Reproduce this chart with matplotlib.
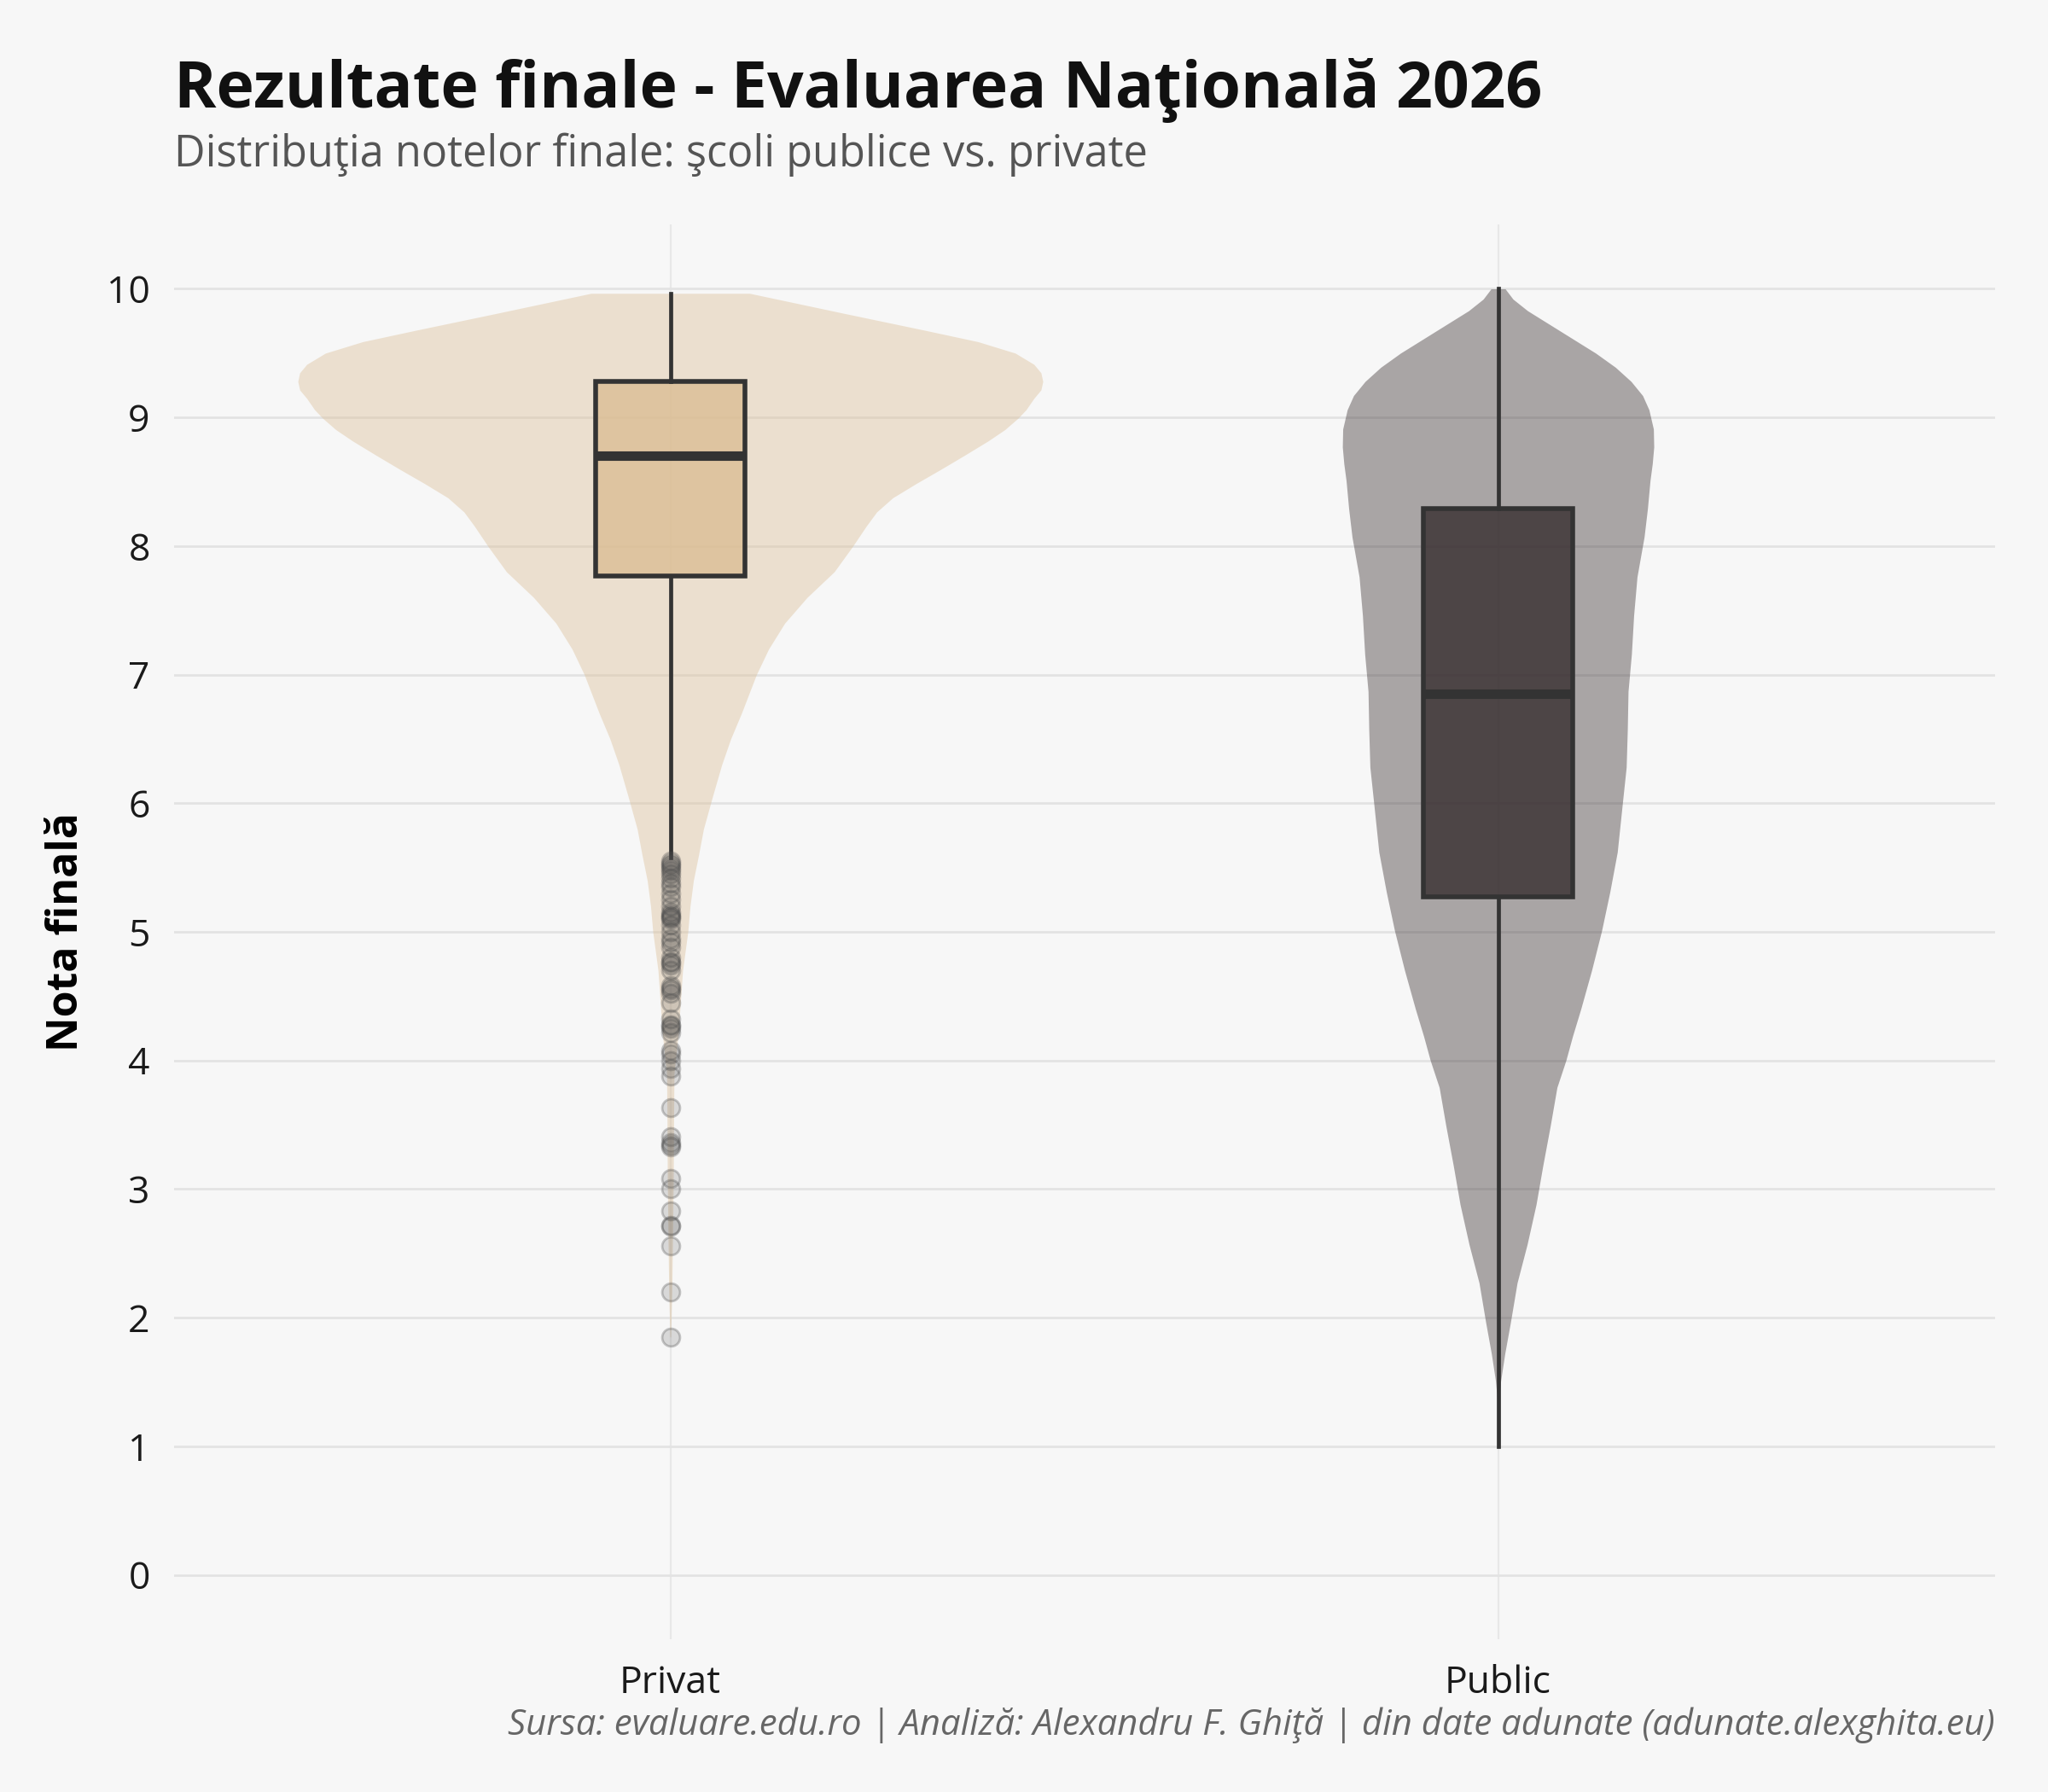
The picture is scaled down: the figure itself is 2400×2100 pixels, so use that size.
import matplotlib
matplotlib.use("Agg")
import matplotlib.pyplot as plt
import numpy as np

plt.rcParams['font.family'] = ['Open Sans', 'DejaVu Sans']

# === date ===
categorii = ["Privat", "Public"]

# profil densitate (relativ, 1 = latimea maxima a viorii Privat)
privat_note = [1.85, 2.2, 2.6, 3.1, 3.6, 3.9, 4.2, 4.45, 4.7, 5.0, 5.2, 5.4, 5.6,
               5.8, 6.05, 6.3, 6.5, 6.7, 7.0, 7.2, 7.4, 7.6, 7.8, 8.0, 8.155,
               8.265, 8.375, 8.486, 8.596, 8.706, 8.817, 8.905, 8.993, 9.06,
               9.148, 9.214, 9.28, 9.347, 9.413, 9.5, 9.589, 9.678, 9.81, 9.965]
privat_dens = [0.001, 0.004, 0.006, 0.008, 0.009, 0.010, 0.021, 0.027, 0.033, 0.047,
               0.053, 0.062, 0.076, 0.089, 0.113, 0.138, 0.162, 0.191, 0.231, 0.264,
               0.307, 0.367, 0.44, 0.49, 0.526, 0.554, 0.597, 0.66, 0.726, 0.79,
               0.853, 0.898, 0.933, 0.955, 0.976, 0.995, 1.0, 0.995, 0.976, 0.926,
               0.826, 0.683, 0.465, 0.213]

public_note = [1.0, 1.36, 1.51, 1.72, 1.96, 2.27, 2.57, 2.88, 3.18, 3.49, 3.79, 4.0,
               4.19, 4.4, 4.7, 5.01, 5.31, 5.62, 5.98, 6.28, 6.57, 6.87, 7.16, 7.46,
               7.76, 8.07, 8.29, 8.51, 8.64, 8.77, 8.91, 9.06, 9.17, 9.28, 9.39,
               9.5, 9.61, 9.72, 9.83, 9.92, 10.0]
public_dens = [0.0, 0.002, 0.007, 0.018, 0.033, 0.051, 0.078, 0.102, 0.12, 0.14,
               0.158, 0.182, 0.2, 0.222, 0.251, 0.278, 0.3, 0.32, 0.333, 0.344,
               0.347, 0.349, 0.358, 0.364, 0.373, 0.392, 0.401, 0.408, 0.414, 0.418,
               0.417, 0.405, 0.388, 0.357, 0.315, 0.262, 0.201, 0.14, 0.079, 0.04,
               0.019]

# statistici boxplot: q1, mediana, q3, mustati
q1 = [7.77, 5.27]
mediana = [8.70, 6.85]
q3 = [9.28, 8.29]
mustata_jos = [5.58, 1.0]
mustata_sus = [9.965, 10.0]

# valori aberante (doar Privat)
privat_outliers = [5.55, 5.53, 5.52, 5.50, 5.48, 5.45, 5.42, 5.38, 5.35, 5.30, 5.25,
                   5.20, 5.15, 5.13, 5.12, 5.11, 5.10, 5.05, 5.00, 4.95, 4.92, 4.88,
                   4.80, 4.77, 4.76, 4.74, 4.70, 4.58, 4.56, 4.55, 4.52, 4.45, 4.32,
                   4.28, 4.27, 4.25, 4.22, 4.08, 4.05, 4.00, 3.94, 3.88, 3.63, 3.41,
                   3.36, 3.34, 3.33, 3.08, 3.00, 2.83, 2.72, 2.71, 2.56, 2.20, 1.85]

culori = ["#dbbd93", "#342a2c"]
bg = "#f7f7f7"

fig = plt.figure(figsize=(12, 10.5), dpi=200, facecolor=bg)
ax = fig.add_axes([0.0848, 0.0853, 0.974 - 0.0848, 0.8747 - 0.0853], facecolor=bg)

# === viori ===
latime_max = 0.45
for i, (note, dens) in enumerate([(privat_note, privat_dens), (public_note, public_dens)]):
    hw = np.array(dens) * latime_max
    ax.fill_betweenx(note, i - hw, i + hw, color=culori[i], alpha=0.4, lw=0, zorder=2)

# === boxplot ===
stats = []
for i in range(2):
    stats.append(dict(med=mediana[i], q1=q1[i], q3=q3[i],
                      whislo=mustata_jos[i], whishi=mustata_sus[i],
                      fliers=privat_outliers if i == 0 else []))
bp = ax.bxp(stats, positions=[0, 1], widths=0.18, patch_artist=True,
            showcaps=False,
            boxprops=dict(edgecolor="#333333", linewidth=2.0),
            whiskerprops=dict(color="#333333", linewidth=1.7),
            medianprops=dict(color="#333333", linewidth=4.0),
            flierprops=dict(marker="o", markersize=7.5,
                            markerfacecolor=(0.3, 0.3, 0.3, 0.18),
                            markeredgecolor=(0.3, 0.3, 0.3, 0.3),
                            markeredgewidth=1.0, linestyle="none"),
            zorder=3)
for patch, c in zip(bp["boxes"], culori):
    patch.set_facecolor(matplotlib.colors.to_rgba(c, 0.78))

# === axe ===
ax.set_xlim(-0.6, 1.6)
ax.set_ylim(-0.5, 10.5)
ax.set_yticks(range(0, 11))
ax.set_xticks([0, 1])
ax.set_xticklabels(categorii)
ax.tick_params(axis="both", length=0, labelsize=16, colors="#1a1a1a")
ax.tick_params(axis="y", pad=10)
ax.tick_params(axis="x", pad=10.5)
ax.grid(axis="y", color="#e3e3e3", linewidth=1.0, zorder=0)
ax.grid(axis="x", color="#e8e8e8", linewidth=0.8, zorder=0)
ax.set_axisbelow(True)
for s in ax.spines.values():
    s.set_visible(False)

ax.set_ylabel("Nota finală", fontsize=18, fontweight="bold")
ax.yaxis.set_label_coords(-0.047, 0.5)

# === texte ===
fig.text(0.0848, 0.940, "Rezultate finale - Evaluarea Naţională 2026",
         fontsize=27, fontweight="bold", color="#111111", va="baseline")
fig.text(0.0848, 0.907, "Distribuţia notelor finale: şcoli publice vs. private",
         fontsize=18.2, color="#555555", va="baseline")
fig.text(0.974, 0.032,
         "Sursa: evaluare.edu.ro | Analiză: Alexandru F. Ghiţă | din date adunate (adunate.alexghita.eu)",
         fontsize=15.1, style="italic", color="#666666", ha="right", va="baseline")

fig.savefig("out.png", dpi=200, facecolor=bg)
